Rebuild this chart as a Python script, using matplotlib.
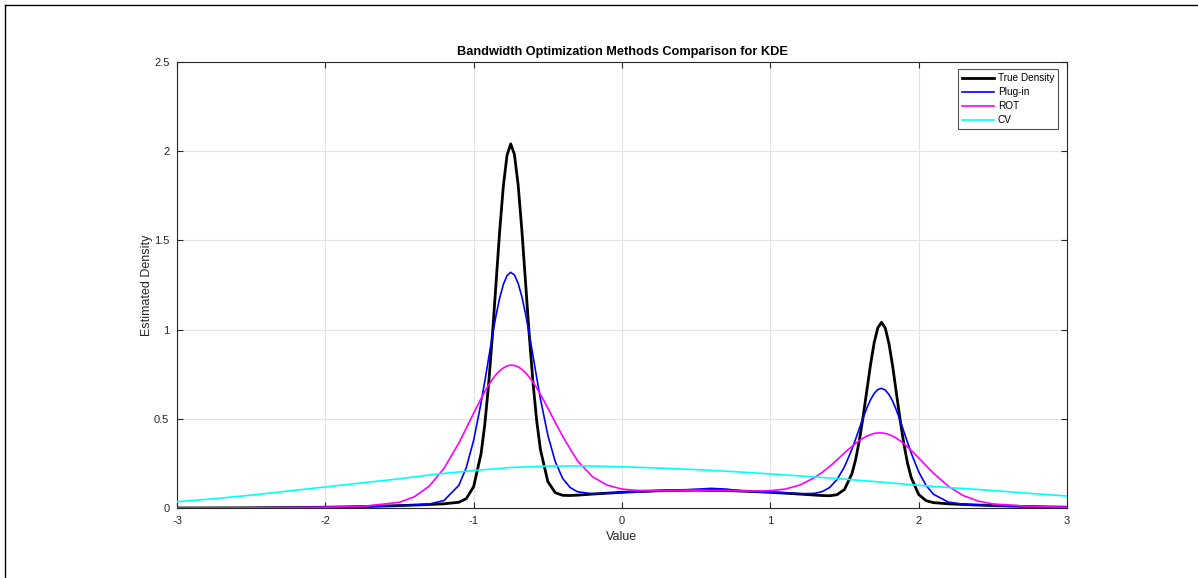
import matplotlib
matplotlib.use('Agg')
import matplotlib.pyplot as plt
from matplotlib.lines import Line2D

plt.rcParams['font.family'] = ['Liberation Sans', 'DejaVu Sans']

# common x grid for the three peaked curves
x_grid = [-3.0, -2.75, -2.5, -2.25, -2.0, -1.75, -1.5, -1.4, -1.3, -1.2, -1.1, -1.05, -1.0,
          -0.95, -0.925, -0.9, -0.875, -0.85, -0.825, -0.8, -0.775, -0.75, -0.725, -0.7, -0.675,
          -0.65, -0.625, -0.6, -0.575, -0.55,
          -0.5, -0.45, -0.4, -0.35, -0.3, -0.2, -0.1, 0.0, 0.1, 0.2, 0.3, 0.4, 0.5, 0.6, 0.7,
          0.8, 0.9, 1.0, 1.1, 1.2, 1.3, 1.35, 1.4, 1.45, 1.5,
          1.55, 1.575, 1.6, 1.625, 1.65, 1.675, 1.7, 1.725, 1.75, 1.775, 1.8, 1.825, 1.85,
          1.875, 1.9, 1.925, 1.95,
          2.0, 2.05, 2.1, 2.2, 2.3, 2.4, 2.5, 2.75, 3.0]

true_density = [0.0002, 0.0005, 0.0011, 0.0023, 0.0044, 0.0079, 0.0135, 0.0164, 0.0197, 0.0235, 0.0321, 0.0522, 0.120,
                0.305, 0.468, 0.685, 0.952, 1.250, 1.548, 1.804, 1.978, 2.041, 1.981, 1.810, 1.556,
                1.262, 0.966, 0.703, 0.488, 0.328,
                0.148, 0.086, 0.071, 0.070, 0.072, 0.078, 0.083, 0.088, 0.092, 0.095, 0.098, 0.099, 0.100, 0.099, 0.098,
                0.095, 0.092, 0.088, 0.083, 0.078, 0.0724, 0.0698, 0.0687, 0.0746, 0.104,
                0.192, 0.271, 0.378, 0.509, 0.655, 0.801, 0.927, 1.011, 1.041, 1.008, 0.921, 0.793, 0.643,
                0.494, 0.360, 0.251, 0.170,
                0.076, 0.041, 0.030, 0.0235, 0.0197, 0.0164, 0.0135, 0.0079, 0.0044]

plug_in = [0.0002, 0.0005, 0.0011, 0.0023, 0.0044, 0.0079, 0.0135, 0.0166, 0.022, 0.042, 0.127, 0.226, 0.380,
           0.590, 0.710, 0.836, 0.960, 1.076, 1.176, 1.253, 1.303, 1.321, 1.306, 1.259, 1.184,
           1.087, 0.974, 0.853, 0.730, 0.612,
           0.408, 0.260, 0.166, 0.115, 0.091, 0.080, 0.083, 0.087, 0.091, 0.094, 0.097, 0.100, 0.105, 0.110, 0.106,
           0.097, 0.091, 0.088, 0.085, 0.080, 0.082, 0.092, 0.115, 0.160, 0.231,
           0.329, 0.386, 0.446, 0.505, 0.559, 0.606, 0.642, 0.664, 0.671, 0.661, 0.636, 0.598, 0.548,
           0.490, 0.429, 0.367, 0.307,
           0.203, 0.126, 0.077, 0.033, 0.021, 0.0165, 0.0135, 0.0079, 0.0044]

rot = [0.0002, 0.0005, 0.0011, 0.0023, 0.0044, 0.0089, 0.032, 0.063, 0.122, 0.222, 0.364, 0.447, 0.532,
       0.614, 0.653, 0.688, 0.720, 0.747, 0.769, 0.785, 0.796, 0.801, 0.799, 0.791, 0.777,
       0.758, 0.734, 0.705, 0.673, 0.637,
       0.560, 0.480, 0.402, 0.332, 0.265, 0.176, 0.128, 0.106, 0.099, 0.097, 0.098, 0.099, 0.100, 0.099, 0.098,
       0.096, 0.095, 0.097, 0.106, 0.129, 0.171, 0.200, 0.233, 0.270, 0.309,
       0.345, 0.362, 0.378, 0.391, 0.403, 0.411, 0.418, 0.421, 0.421, 0.418, 0.412, 0.403, 0.391,
       0.377, 0.361, 0.342, 0.323,
       0.281, 0.237, 0.195, 0.122, 0.070, 0.039, 0.023, 0.0082, 0.0044]

# CV curve is broad, own grid
x_cv = [-3.0, -2.75, -2.5, -2.25, -2.0, -1.75, -1.5, -1.25, -1.0, -0.75, -0.5, -0.25, 0.0,
        0.25, 0.5, 0.75, 1.0, 1.25, 1.5, 1.75, 2.0, 2.25, 2.5, 2.75, 3.0]
cv = [0.035, 0.052, 0.072, 0.095, 0.118, 0.141, 0.164, 0.190, 0.210, 0.227, 0.235, 0.236, 0.231,
      0.224, 0.215, 0.204, 0.191, 0.177, 0.162, 0.145, 0.127, 0.112, 0.098, 0.082, 0.067]

x_ticks = [-3, -2, -1, 0, 1, 2, 3]
y_ticks = [0, 0.5, 1, 1.5, 2, 2.5]
y_tick_labels = ['0', '0.5', '1', '1.5', '2', '2.5']

W, H = 1198, 578
fig = plt.figure(figsize=(W / 100, H / 100), dpi=100)
ax = fig.add_axes([177 / W, 70 / H, 890 / W, 446 / H])
ax.plot(x_grid, true_density, color='k', lw=2.0, label='True Density', zorder=3)
ax.plot(x_grid, plug_in, color='#0000ff', lw=1.2, label='Plug-in', zorder=4)
ax.plot(x_grid, rot, color='#ff00ff', lw=1.2, label='ROT', zorder=5)
ax.plot(x_cv, cv, color='#00ffff', lw=1.2, label='CV', zorder=6)

ax.set_xlim(-3, 3); ax.set_ylim(0, 2.5)
ax.set_xticks(x_ticks); ax.set_xticklabels([str(t) for t in x_ticks])
ax.set_yticks(y_ticks); ax.set_yticklabels(y_tick_labels)
ax.grid(True, color='#e3e3e3', lw=0.8)
ax.set_axisbelow(True)
for s in ax.spines.values():
    s.set_color('#262626'); s.set_linewidth(0.8)
ax.tick_params(direction='in', top=True, right=True, length=4, width=0.8, colors='#262626',
               labelsize=8, pad=5.5)
ax.set_xlabel('Value', fontsize=9, color='#262626', labelpad=4)
ax.set_ylabel('Estimated Density', fontsize=9, color='#262626', labelpad=1)
ax.set_title('Bandwidth Optimization Methods Comparison for KDE', fontsize=9.2, fontweight='bold',
             color='#000000', pad=5)
leg = ax.legend(loc='upper right', bbox_to_anchor=(0.99, 0.984), bbox_transform=ax.transAxes,
                fontsize=7.2, frameon=True, fancybox=False, edgecolor='#262626', borderaxespad=0,
                handlelength=3.2, handletextpad=0.4, labelspacing=0.4, borderpad=0.4)
leg.get_frame().set_linewidth(0.8)

# outer frame lines on left and top edges
fig.add_artist(Line2D([5 / W, 5 / W], [0, 1 - 5 / H], color='k', lw=1.0, transform=fig.transFigure))
fig.add_artist(Line2D([5 / W, 1], [1 - 5 / H, 1 - 5 / H], color='k', lw=1.0, transform=fig.transFigure))

fig.savefig('out.png', dpi=100)
